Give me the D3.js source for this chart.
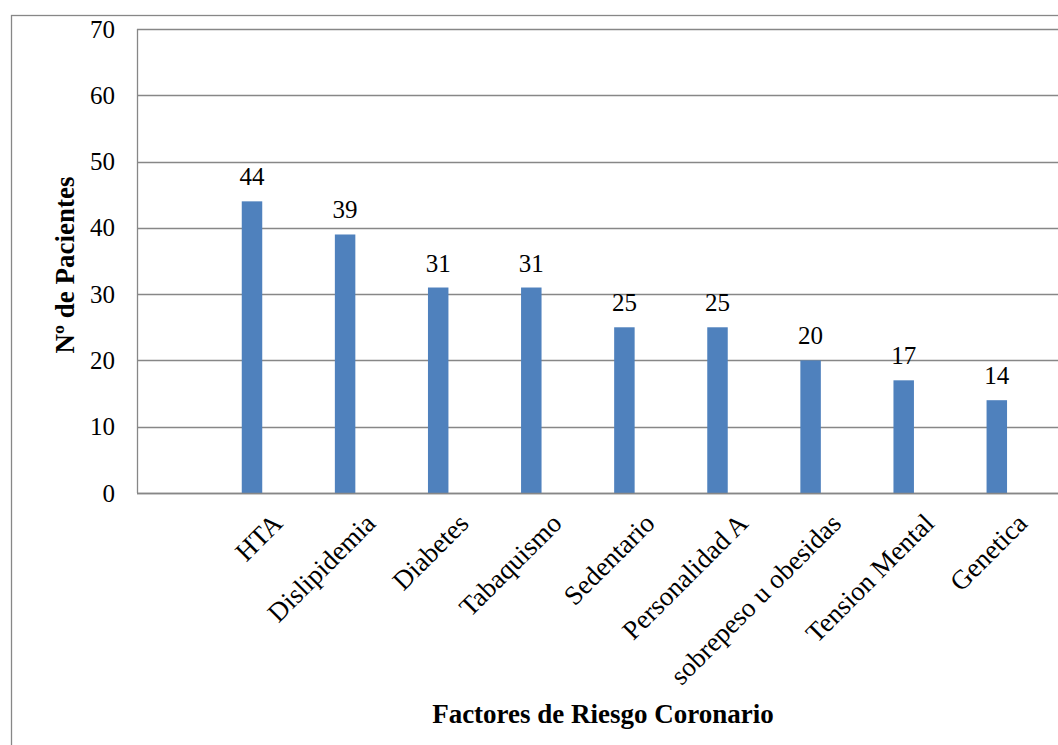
<!DOCTYPE html>
<html>
<head>
<meta charset="utf-8">
<script src="https://cdn.jsdelivr.net/npm/d3@7"></script>
<style>
  html, body { margin: 0; padding: 0; background: #fff; }
  svg { display: block; }
  text { font-family: "Liberation Serif", "Times New Roman", serif; fill: #000; }
</style>
</head>
<body>
<svg id="chart" width="1058" height="745"></svg>
<script>
const categories = ["HTA", "Dislipidemia", "Diabetes", "Tabaquismo", "Sedentario",
  "Personalidad A", "sobrepeso u obesidas", "Tension Mental", "Genetica"];
const values = [44, 39, 31, 31, 25, 25, 20, 17, 14];
const yTicks = [0, 10, 20, 30, 40, 50, 60, 70];
const yTitle = "Nº de Pacientes";
const xTitle = "Factores de Riesgo Coronario";

const svg = d3.select("#chart");
const plotLeft = 137, plotTop = 29, plotBottom = 493, plotRight = 1070;
const gridColor = "#878787";
const serif = '"Liberation Serif", "Times New Roman", serif';

// outer chart border
svg.append("rect")
  .attr("x", 11.5).attr("y", 15.5)
  .attr("width", 1100).attr("height", 800)
  .attr("fill", "#fff").attr("stroke", gridColor).attr("stroke-width", 1.3);

const y = d3.scaleLinear().domain([0, 70]).range([plotBottom, plotTop]);
const x = d3.scaleBand().domain(categories)
  .range([205.45, 1043.35]).paddingInner(0.78).paddingOuter(0.39);

// gridlines
svg.append("g").selectAll("line").data(yTicks).join("line")
  .attr("x1", plotLeft).attr("x2", plotRight)
  .attr("y1", d => Math.round(y(d)) + 0.5).attr("y2", d => Math.round(y(d)) + 0.5)
  .attr("stroke", gridColor).attr("stroke-width", 1.3);

// left axis line
svg.append("line")
  .attr("x1", plotLeft + 0.5).attr("x2", plotLeft + 0.5)
  .attr("y1", plotTop).attr("y2", plotBottom)
  .attr("stroke", gridColor).attr("stroke-width", 1.3);

// y axis labels
const yAxis = d3.axisLeft(y).tickValues(yTicks).tickSize(0).tickPadding(22);
const gy = svg.append("g").attr("transform", `translate(${plotLeft},0)`).call(yAxis);
gy.attr("font-family", null).attr("font-size", null);
gy.select(".domain").remove();
gy.selectAll("text")
  .style("font-family", serif)
  .style("font-size", "25px").attr("fill", "#000");

// bars
svg.append("g").selectAll("rect").data(values).join("rect")
  .attr("x", (d, i) => x(categories[i]))
  .attr("width", x.bandwidth())
  .attr("y", d => y(d))
  .attr("height", d => y(0) - y(d))
  .attr("fill", "#4F81BD");

// data labels
svg.append("g").selectAll("text").data(values).join("text")
  .attr("x", (d, i) => x(categories[i]) + x.bandwidth() / 2)
  .attr("y", d => y(d) - 16)
  .attr("text-anchor", "middle")
  .style("font-family", serif)
  .style("font-size", "25px")
  .text(d => d);

// x axis category labels
const xAxis = d3.axisBottom(x).tickSize(0).tickPadding(0);
const gx = svg.append("g").attr("transform", `translate(0,${plotBottom})`).call(xAxis);
gx.attr("font-family", null).attr("font-size", null);
gx.select(".domain").remove();
gx.selectAll(".tick text")
  .style("font-family", serif)
  .style("font-size", "27px").attr("fill", "#000")
  .attr("text-anchor", "end")
  .attr("dy", null)
  .attr("y", 0)
  .attr("transform", "translate(32,32) rotate(-45)");

// bottom axis line
svg.append("line")
  .attr("x1", plotLeft).attr("x2", plotRight)
  .attr("y1", plotBottom + 0.5).attr("y2", plotBottom + 0.5)
  .attr("stroke", gridColor).attr("stroke-width", 1.3);

// axis titles
svg.append("text")
  .attr("transform", "translate(74,265) rotate(-90)")
  .attr("text-anchor", "middle")
  .style("font-family", serif)
  .style("font-size", "27px").style("font-weight", "bold")
  .text(yTitle);

svg.append("text")
  .attr("x", 603).attr("y", 723)
  .attr("text-anchor", "middle")
  .style("font-family", serif)
  .style("font-size", "27px").style("font-weight", "bold")
  .text(xTitle);
</script>
</body>
</html>
